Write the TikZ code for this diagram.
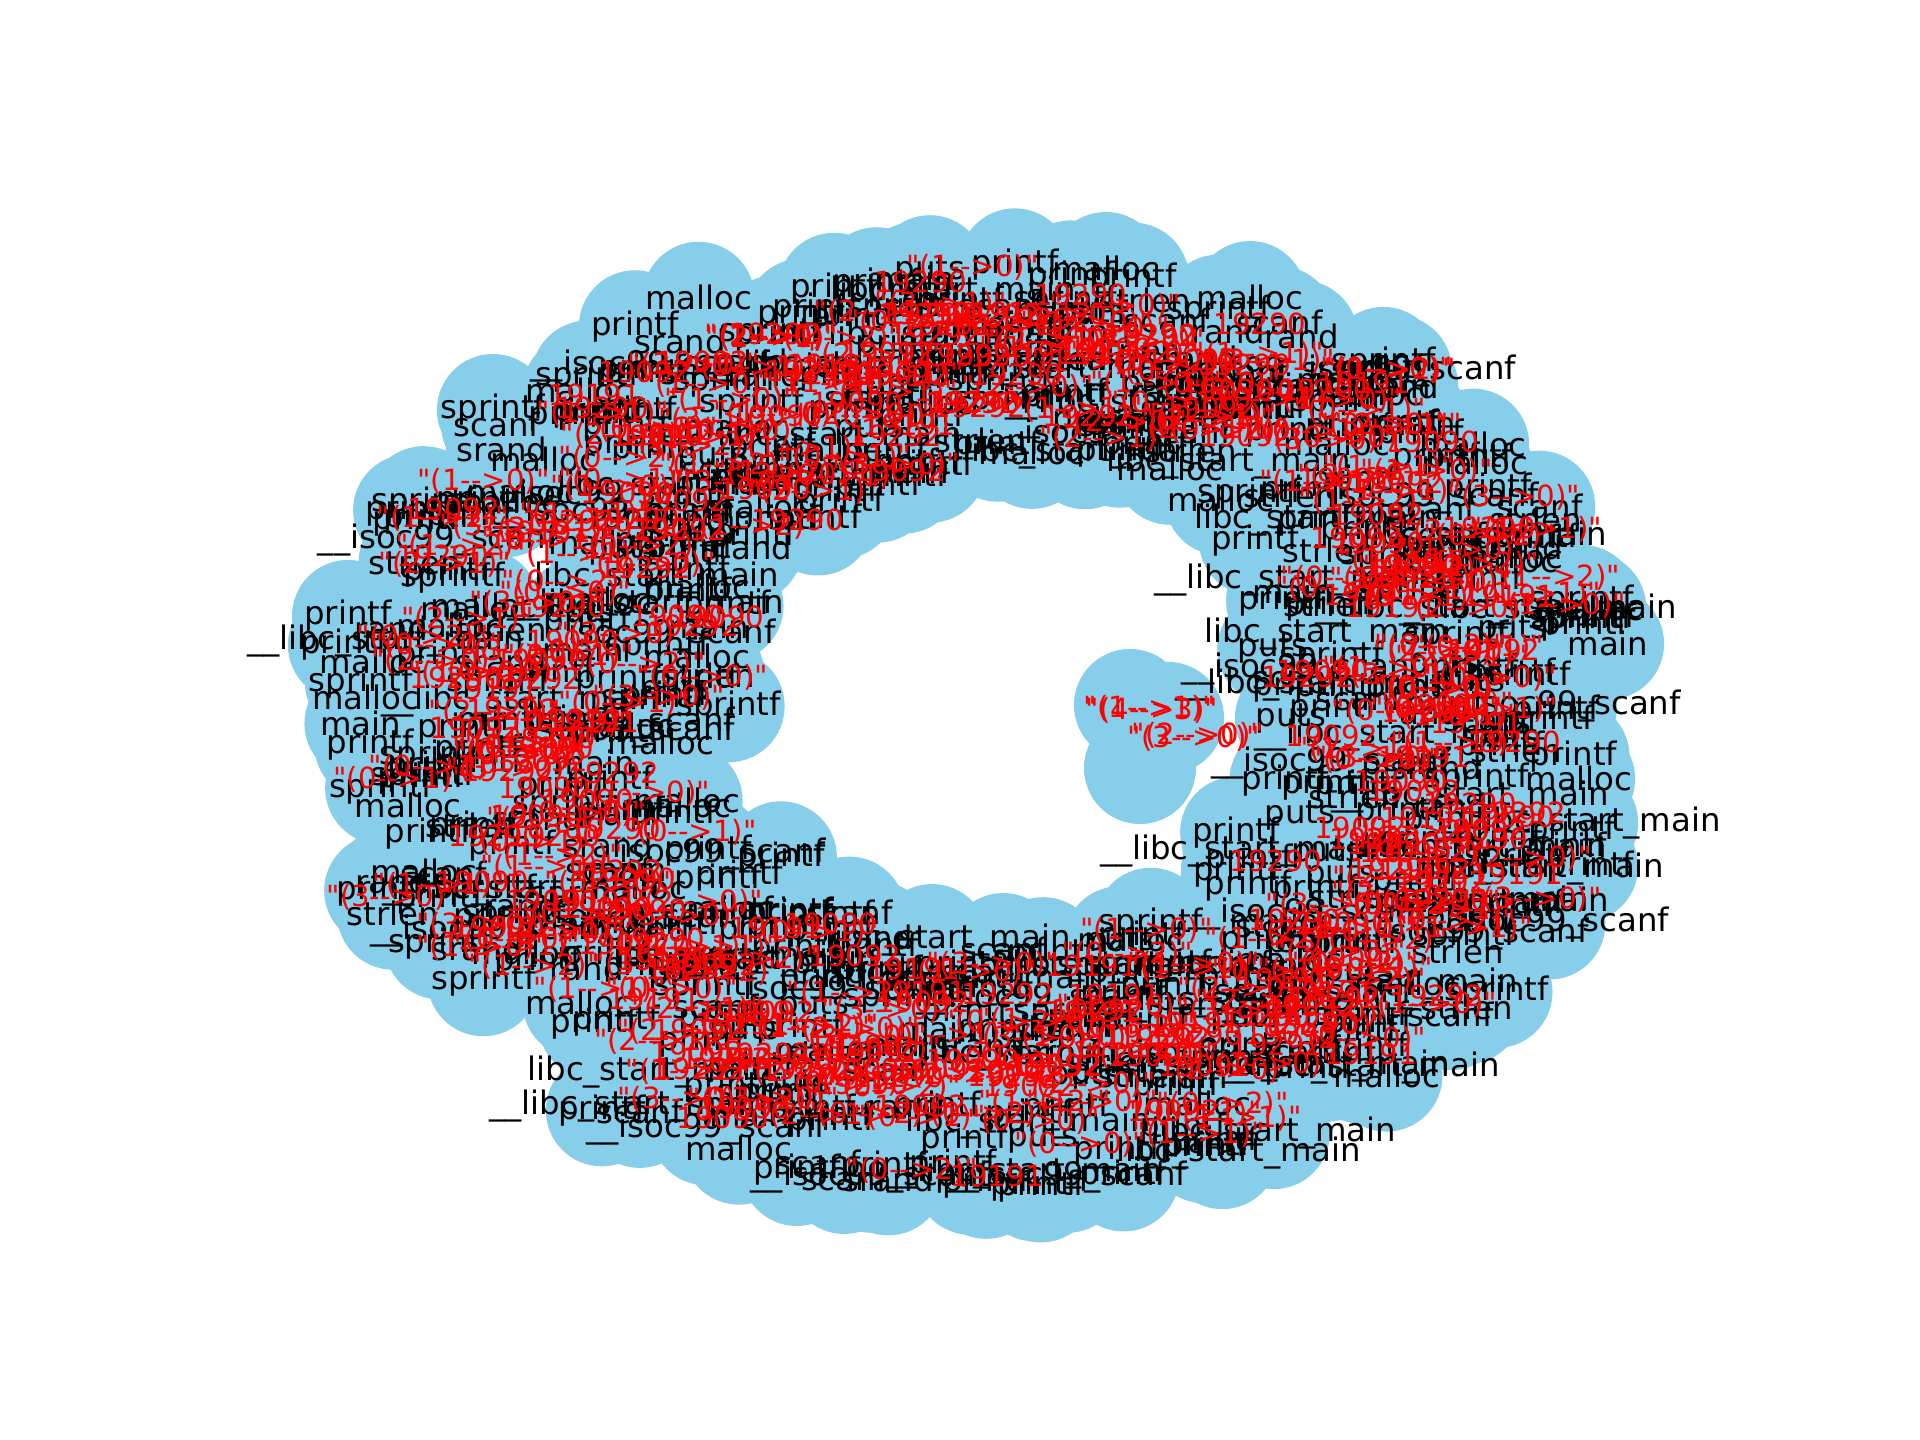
\documentclass[tikz,border=0pt]{standalone}
\usepackage{fontspec}
\newfontfamily\dv{DejaVu Sans}
\usetikzlibrary{calc}
\definecolor{skyblue}{HTML}{87CEEB}
\newcommand\blbl[1]{\ifcase#1 printf\or printf\or printf\or printf\or printf\or printf\or printf\or printf\or printf\or printf\or printf\or malloc\or malloc\or sprintf\or sprintf\or strlen\or rand\or srand\or puts\or main\or scanf\or \_\_isoc99\_scanf\or \_\_libc\_start\_main\or libc\_start\_main\else printf\fi}
\newcommand\rlbl[1]{\ifcase#1 "(1-{}->1)"\or "(0-{}->0)"\or "(2-{}->0)"\or "(0-{}->1)"\or "(1-{}->0)"\or "(2-{}->1)"\or "(0-{}->2)"\or "(1-{}->2)"\or 19191\or 19090\or 19290\or 19092\or 19292\or "(3-{}->0)"\else 19090\fi}
\begin{document}
\begin{tikzpicture}[x=0.01cm,y=-0.01cm,
  blob/.style={circle,fill=skyblue,minimum size=1.12cm,inner sep=0pt},
  bl/.style={inner sep=0pt,text=black,font=\dv\fontsize{9.2}{10}\selectfont},
  rl/.style={inner sep=0pt,text=red,font=\dv\fontsize{8.3}{9}\selectfont}]
\useasboundingbox (0,0) rectangle (1920,1440);
\pgfmathsetseed{20240}
\foreach \i in {1,...,580}{
  \pgfmathsetmacro\ang{\i/580*360+12*(rnd-0.5)}
  \pgfmathsetmacro\t{rnd^0.85}
  \pgfmathsetmacro\ca{cos(\ang)}
  \pgfmathsetmacro\sa{sin(\ang)}
  \pgfmathsetmacro\px{(1-\t)*(1004+272*\ca)+\t*(974+645*\ca)}
  \pgfmathsetmacro\py{(1-\t)*(700+238*\sa)+\t*(724+474*\sa)}
  \node[blob] (n\i) at (\px,\py) {};
}
\node[blob] (c1) at (1130,705) {};
\node[blob] (c2) at (1140,768) {};
\node[blob] (c3) at (1168,718) {};
\foreach \i in {1,...,580}{
  \pgfmathtruncatemacro\k{rnd*24}
  \node[bl] (l\i) at (n\i) {\blbl{\k}};
}
\foreach \i in {1,...,577}{
  \pgfmathtruncatemacro\j{\i+1+int(rnd*3)}
  \pgfmathtruncatemacro\k{rnd*14}
  \pgfmathtruncatemacro\flag{rnd<0.8}
  \ifnum\flag=1
    \node[rl] (r\i) at ($(n\i)!0.5!(n\j)$) {\rlbl{\k}};
  \fi
}
\node[rl] (ca) at (1150,708) {"(1-{}->1)"};
\node[rl] (cb) at (1152,710) {"(4-{}->3)"};
\node[rl] (cc) at (1198,735) {"(2-{}->0)"};
\node[rl] (cd) at (1194,738) {"(3-{}->0)"};
\end{tikzpicture}
\end{document}
